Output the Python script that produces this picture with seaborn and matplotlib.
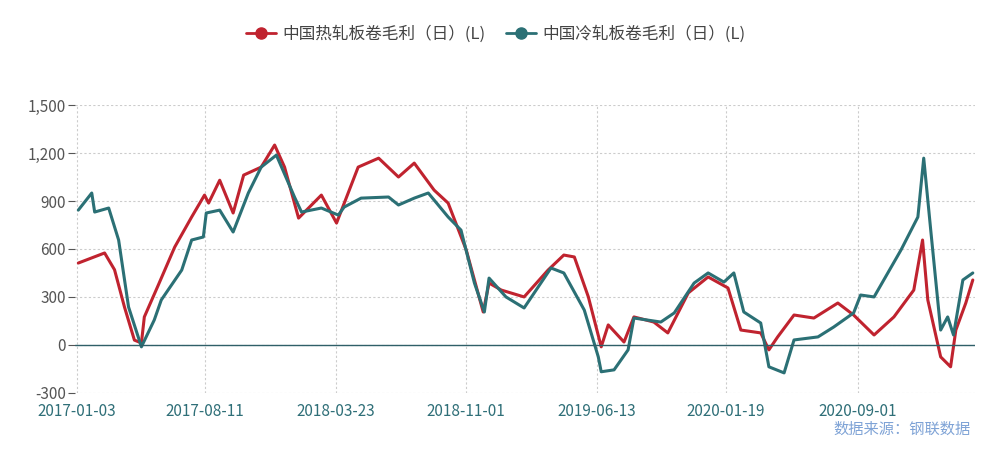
import pandas as pd
import matplotlib.pyplot as plt
from matplotlib.lines import Line2D
import seaborn as sns

sns.set_style("white")
plt.rcParams['font.family'] = ['Noto Sans CJK SC', 'DejaVu Sans']

start = pd.Timestamp('2017-01-03')

# 热轧板卷毛利 (天数偏移, 数值)
hot_days = [3, 48, 65, 82, 99, 111, 116, 140, 168, 197, 219, 226, 245, 268, 286, 316, 339, 356, 380, 419,
            445, 482, 517, 551, 578, 612, 636, 667, 696, 706, 727, 766, 807, 834, 852, 876, 898, 910, 937, 954,
            988, 1012, 1047, 1081, 1115, 1137, 1171, 1185, 1200, 1228, 1262, 1303, 1330, 1365, 1399, 1433,
            1448, 1457, 1479, 1496, 1505, 1522, 1534]
hot_vals = [512, 575, 470, 237, 30, 12, 175, 375, 612, 800, 937, 887, 1030, 825, 1062, 1112, 1250, 1112, 793, 937,
            762, 1112, 1168, 1050, 1137, 968, 887, 593, 206, 387, 343, 300, 468, 562, 550, 300, -12, 125, 18, 175,
            143, 75, 325, 425, 356, 93, 75, -31, 50, 187, 168, 262, 187, 62, 175, 343, 656, 281, -75, -137,
            93, 262, 406]

# 冷轧板卷毛利
cold_days = [3, 26, 31, 55, 72, 89, 111, 133, 145, 180, 197, 217, 222, 245, 268, 294, 316, 342, 373, 385,
             419, 448, 458, 487, 534, 551, 578, 602, 636, 658, 681, 698, 706, 735, 766, 812, 834, 869, 893, 898,
             920, 944, 954, 1000, 1023, 1057, 1081, 1108, 1125, 1142, 1171, 1185, 1211, 1228, 1269, 1296, 1330,
             1342, 1365, 1411, 1440, 1450, 1462, 1479, 1491, 1501, 1517, 1534]
cold_vals = [843, 950, 831, 856, 656, 237, -12, 156, 281, 468, 656, 675, 825, 843, 706, 950, 1112, 1187, 925, 831,
             856, 812, 862, 918, 925, 875, 918, 950, 800, 718, 387, 206, 418, 300, 231, 481, 450, 218, -75, -168,
             -156, -31, 168, 143, 200, 387, 450, 393, 450, 206, 137, -137, -175, 31, 50, 112, 200, 312, 300, 593,
             800, 1168, 718, 93, 175, 62, 406, 450]

tick_labels = ['2017-01-03', '2017-08-11', '2018-03-23', '2018-11-01', '2019-06-13', '2020-01-19', '2020-09-01']
series_names = ['中国热轧板卷毛利（日）(L)', '中国冷轧板卷毛利（日）(L)']

hot = pd.DataFrame({'date': start + pd.to_timedelta(hot_days, unit='D'), 'value': hot_vals})
cold = pd.DataFrame({'date': start + pd.to_timedelta(cold_days, unit='D'), 'value': cold_vals})

red = '#c0232f'
teal = '#2b7075'

fig = plt.figure(figsize=(9.92, 4.49), dpi=100)
ax = fig.add_axes([0.076, 0.125, 0.907, 0.641])
sns.lineplot(data=hot, x='date', y='value', color=red, linewidth=2.2, ax=ax)
sns.lineplot(data=cold, x='date', y='value', color=teal, linewidth=2.2, ax=ax)

ax.set_ylim(-300, 1500)
ax.set_yticks(range(-300, 1501, 300))
ax.set_yticklabels([f'{v:,}' for v in range(-300, 1501, 300)], color='#555555', fontsize=11)
ticks = pd.to_datetime(tick_labels)
ax.set_xticks(ticks)
ax.set_xticklabels(tick_labels, color='#2f6f78', fontsize=11)
ax.set_xlim(start - pd.Timedelta(days=2), start + pd.Timedelta(days=1538))
ax.set_xlabel('')
ax.set_ylabel('')
ax.grid(True, linestyle=(0, (2, 2)), color='#cccccc', linewidth=0.8)
ax.axhline(0, color='#2f5f68', linewidth=1)
for s in ['top', 'right', 'bottom', 'left']:
    ax.spines[s].set_visible(False)
ax.tick_params(axis='y', length=5, color='#555555', left=True, pad=2)
ax.tick_params(axis='x', length=0, pad=7)

handles = [Line2D([], [], color=c, linewidth=2, marker='o', markersize=8) for c in (red, teal)]
fig.legend(handles, series_names, loc='center', bbox_to_anchor=(0.5, 0.925), ncol=2, frameon=False,
           fontsize=12, handlelength=1.8, columnspacing=1.2, handletextpad=0.4, labelcolor='#444444')

fig.text(0.978, 0.035, '数据来源：钢联数据', ha='right', color='#7fa3d6', fontsize=11)

fig.savefig('out.png', dpi=100)
